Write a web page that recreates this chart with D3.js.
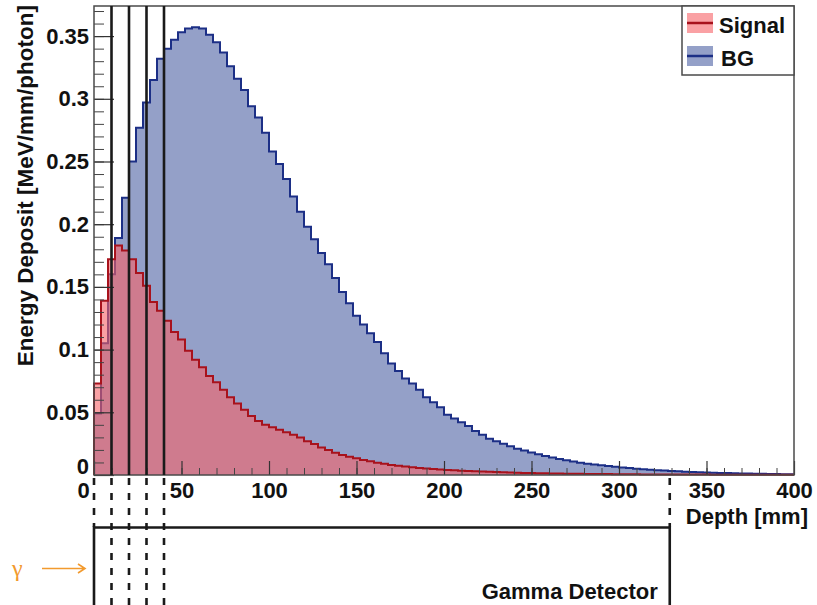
<!DOCTYPE html>
<html>
<head>
<meta charset="utf-8">
<script src="https://cdn.jsdelivr.net/npm/d3@7/dist/d3.min.js"></script>
<style>
  html, body { margin: 0; padding: 0; background: #fff; }
  svg { display: block; }
  text { font-family: "Liberation Sans", Arial, Helvetica, sans-serif; font-weight: bold; }
</style>
</head>
<body>
<svg id="chart" width="817" height="605"></svg>
<script>
// ---- data (bin width 4 mm, 0..400 mm) ----
const binWidth = 4;
const signalValues = [
  0.073, 0.139, 0.172, 0.183, 0.179, 0.172, 0.161, 0.151, 0.138, 0.131,
  0.123, 0.114, 0.108, 0.099, 0.092, 0.086, 0.079, 0.074, 0.068, 0.062,
  0.057, 0.052, 0.047, 0.043, 0.040, 0.038, 0.036, 0.034, 0.032, 0.030,
  0.027, 0.0247, 0.022, 0.020, 0.0178, 0.016, 0.0146, 0.0133, 0.012, 0.011,
  0.0098, 0.0089, 0.008, 0.0073, 0.0067, 0.0061, 0.0056, 0.0051, 0.0047, 0.0043,
  0.004, 0.0037, 0.0034, 0.0031, 0.0029, 0.0027, 0.0025, 0.0023, 0.0021, 0.0019,
  0.0018, 0.0016, 0.0015, 0.0014, 0.0013, 0.0012, 0.0011, 0.001, 0.00095, 0.0009,
  0.00085, 0.0008, 0.00075, 0.0007, 0.00065, 0.0006, 0.00055, 0.0005, 0.00048, 0.00045,
  0.0004, 0.0004, 0.00038, 0.00036, 0.00034, 0.00032, 0.0003, 0.0003, 0.00028, 0.00026,
  0.00025, 0.00024, 0.00023, 0.00022, 0.00021, 0.0002, 0.0002, 0.0002, 0.0002, 0.0002
];
const bgValues = [
  0.049, 0.105, 0.160, 0.189, 0.221, 0.250, 0.277, 0.297, 0.315, 0.332,
  0.340, 0.347, 0.353, 0.356, 0.357, 0.356, 0.351, 0.345, 0.337, 0.326,
  0.316, 0.307, 0.294, 0.285, 0.273, 0.258, 0.248, 0.236, 0.222, 0.210,
  0.198, 0.188, 0.177, 0.168, 0.157, 0.146, 0.137, 0.127, 0.120, 0.113,
  0.106, 0.097, 0.089, 0.083, 0.077, 0.073, 0.068, 0.062, 0.058, 0.054,
  0.048, 0.045, 0.042, 0.039, 0.035, 0.032, 0.029, 0.027, 0.025, 0.023,
  0.021, 0.0195, 0.018, 0.0165, 0.0152, 0.014, 0.0128, 0.0117, 0.0107, 0.0098,
  0.009, 0.0083, 0.0077, 0.0071, 0.0065, 0.006, 0.0055, 0.005, 0.0046, 0.0042,
  0.0038, 0.0035, 0.0032, 0.0029, 0.0026, 0.0024, 0.0022, 0.002, 0.0018, 0.0016,
  0.0015, 0.0013, 0.0012, 0.0011, 0.001, 0.0009, 0.0008, 0.0007, 0.0006, 0.0006
];
const seriesNames = ["Signal", "BG"];
const xTicks = [0, 50, 100, 150, 200, 250, 300, 350, 400];
const xTickLabels = ["0", "50", "100", "150", "200", "250", "300", "350", "400"];
const yTicks = [0, 0.05, 0.1, 0.15, 0.2, 0.25, 0.3, 0.35];
const yTickLabels = ["0", "0.05", "0.1", "0.15", "0.2", "0.25", "0.3", "0.35"];
const layerLines = [10, 20, 30, 40];       // solid vertical markers (mm)
const detectorEnd = 329;                    // gamma detector end (mm)
const xTitle = "Depth [mm]";
const yTitle = "Energy Deposit [MeV/mm/photon]";
const detectorLabel = "Gamma Detector";
const gammaLabel = "γ";

// ---- layout ----
const L = 94, R = 794, T = 6, B = 475;
const FS = 22;
const x = d3.scaleLinear().domain([0, 400]).range([L, R]);
const y = d3.scaleLinear().domain([0, 0.374]).range([B, T]);

const colors = {
  bgFill: "#94a0c8", bgLine: "#1c2f86",
  sigFill: "rgb(246,98,103)", sigOpacity: 0.6, sigLine: "#a8121c",
  frame: "#4a4a4a", orange: "#f29a2e"
};

const svg = d3.select("#chart");

function histPoints(vals) {
  const pts = [[0, 0]];
  vals.forEach((v, i) => pts.push([i * binWidth, v]));
  pts.push([vals.length * binWidth, vals[vals.length - 1]]);
  pts.push([vals.length * binWidth, 0]);
  return pts;
}
const area = d3.area().curve(d3.curveStepAfter)
  .x(d => x(d[0])).y0(y(0)).y1(d => y(d[1]));
const line = d3.line().curve(d3.curveStepAfter)
  .x(d => x(d[0])).y(d => y(d[1]));

const bgPts = histPoints(bgValues);
const sigPts = histPoints(signalValues);

// BG
svg.append("path").attr("d", area(bgPts)).attr("fill", colors.bgFill);
svg.append("path").attr("d", line(bgPts)).attr("fill", "none")
  .attr("stroke", colors.bgLine).attr("stroke-width", 2);
// Signal
svg.append("path").attr("d", area(sigPts)).attr("fill", colors.sigFill)
  .attr("fill-opacity", colors.sigOpacity);
svg.append("path").attr("d", line(sigPts)).attr("fill", "none")
  .attr("stroke", colors.sigLine).attr("stroke-width", 2);

// ---- axes ----
const yMinor = d3.range(0, 38).map(i => i / 100);
svg.append("g").attr("transform", `translate(${L},0)`)
  .call(d3.axisLeft(y).tickValues(yMinor).tickSize(-10).tickFormat(""))
  .call(g => g.select(".domain").remove())
  .call(g => g.selectAll("line").attr("stroke", "#444").attr("stroke-width", 1));
const yAxis = svg.append("g").attr("transform", `translate(${L},0)`)
  .call(d3.axisLeft(y).tickValues(yTicks).tickSize(-20).tickPadding(5)
    .tickFormat((d, i) => yTickLabels[i]));
yAxis.select(".domain").remove();
yAxis.selectAll("line").attr("stroke", "#333").attr("stroke-width", 1.2);
yAxis.selectAll("text").attr("font-size", FS).attr("fill", "#111")
  .attr("dy", (d) => d === 0 ? "-0.05em" : "0.32em");

const xMinor = d3.range(0, 401, 10);
svg.append("g").attr("transform", `translate(0,${B})`)
  .call(d3.axisBottom(x).tickValues(xMinor).tickSize(-7).tickFormat(""))
  .call(g => g.select(".domain").remove())
  .call(g => g.selectAll("line").attr("stroke", "#444").attr("stroke-width", 1));
const xAxis = svg.append("g").attr("transform", `translate(0,${B})`)
  .call(d3.axisBottom(x).tickValues(xTicks).tickSize(-14).tickPadding(7)
    .tickFormat((d, i) => xTickLabels[i]));
xAxis.select(".domain").remove();
xAxis.selectAll("line").attr("stroke", "#333").attr("stroke-width", 1.2);
xAxis.selectAll("text").attr("font-size", FS).attr("fill", "#111")
  .attr("dy", "0.72em")
  .attr("dx", d => d === 0 ? -11 : 0);

// frame
svg.append("rect").attr("x", L).attr("y", T).attr("width", R - L).attr("height", B - T)
  .attr("fill", "none").attr("stroke", colors.frame).attr("stroke-width", 1.5);

// titles
svg.append("text").attr("x", 808).attr("y", 524).attr("text-anchor", "end")
  .attr("font-size", FS).attr("fill", "#111").text(xTitle);
svg.append("text").attr("transform", "translate(33,5) rotate(-90)")
  .attr("text-anchor", "end").attr("font-size", 22.5).attr("fill", "#111").text(yTitle);

// ---- layer marker lines ----
layerLines.forEach(v => {
  svg.append("line").attr("x1", x(v)).attr("x2", x(v)).attr("y1", T).attr("y2", B)
    .attr("stroke", "#1a1a1a").attr("stroke-width", 2.6);
  svg.append("line").attr("x1", x(v)).attr("x2", x(v)).attr("y1", B + 3).attr("y2", 605)
    .attr("stroke", "#1a1a1a").attr("stroke-width", 2.6).attr("stroke-dasharray", "7,8");
});
[0, detectorEnd].forEach(v => {
  svg.append("line").attr("x1", x(v)).attr("x2", x(v)).attr("y1", B + 3).attr("y2", 527)
    .attr("stroke", "#1a1a1a").attr("stroke-width", 2.6).attr("stroke-dasharray", "7,8");
});

// ---- detector box ----
svg.append("path")
  .attr("d", `M${x(0)},605 V527.5 H${x(detectorEnd)} V605`)
  .attr("fill", "none").attr("stroke", "#1a1a1a").attr("stroke-width", 2.6);
svg.append("text").attr("x", x(detectorEnd) - 12).attr("y", 599).attr("text-anchor", "end")
  .attr("font-size", 22).attr("fill", "#111").text(detectorLabel);

// gamma arrow
svg.append("text").attr("x", 12).attr("y", 576)
  .style("font-family", "'Liberation Serif', 'DejaVu Serif', serif").style("font-weight", "normal")
  .attr("font-size", 24).attr("fill", colors.orange).text(gammaLabel);
svg.append("path").attr("d", "M42,568.5 H85 M78,564 L85,568.5 L78,573")
  .attr("fill", "none").attr("stroke", colors.orange).attr("stroke-width", 1.6);

// ---- legend ----
const lg = svg.append("g");
lg.append("rect").attr("x", 682).attr("y", T).attr("width", R - 682).attr("height", 69)
  .attr("fill", "#fff").attr("stroke", colors.frame).attr("stroke-width", 1.5);
const legendItems = [
  { name: seriesNames[0], fill: colors.sigFill, op: colors.sigOpacity, line: colors.sigLine, y: 13, tx: 719, ty: 33 },
  { name: seriesNames[1], fill: colors.bgFill, op: 1, line: colors.bgLine, y: 46, tx: 721, ty: 66 }
];
legendItems.forEach(it => {
  lg.append("rect").attr("x", 687).attr("y", it.y).attr("width", 26).attr("height", 20)
    .attr("fill", it.fill).attr("fill-opacity", it.op);
  lg.append("line").attr("x1", 687).attr("x2", 713).attr("y1", it.y + 10).attr("y2", it.y + 10)
    .attr("stroke", it.line).attr("stroke-width", 2.5);
  lg.append("text").attr("x", it.tx).attr("y", it.ty).attr("font-size", FS)
    .attr("fill", "#111").text(it.name);
});
</script>
</body>
</html>
